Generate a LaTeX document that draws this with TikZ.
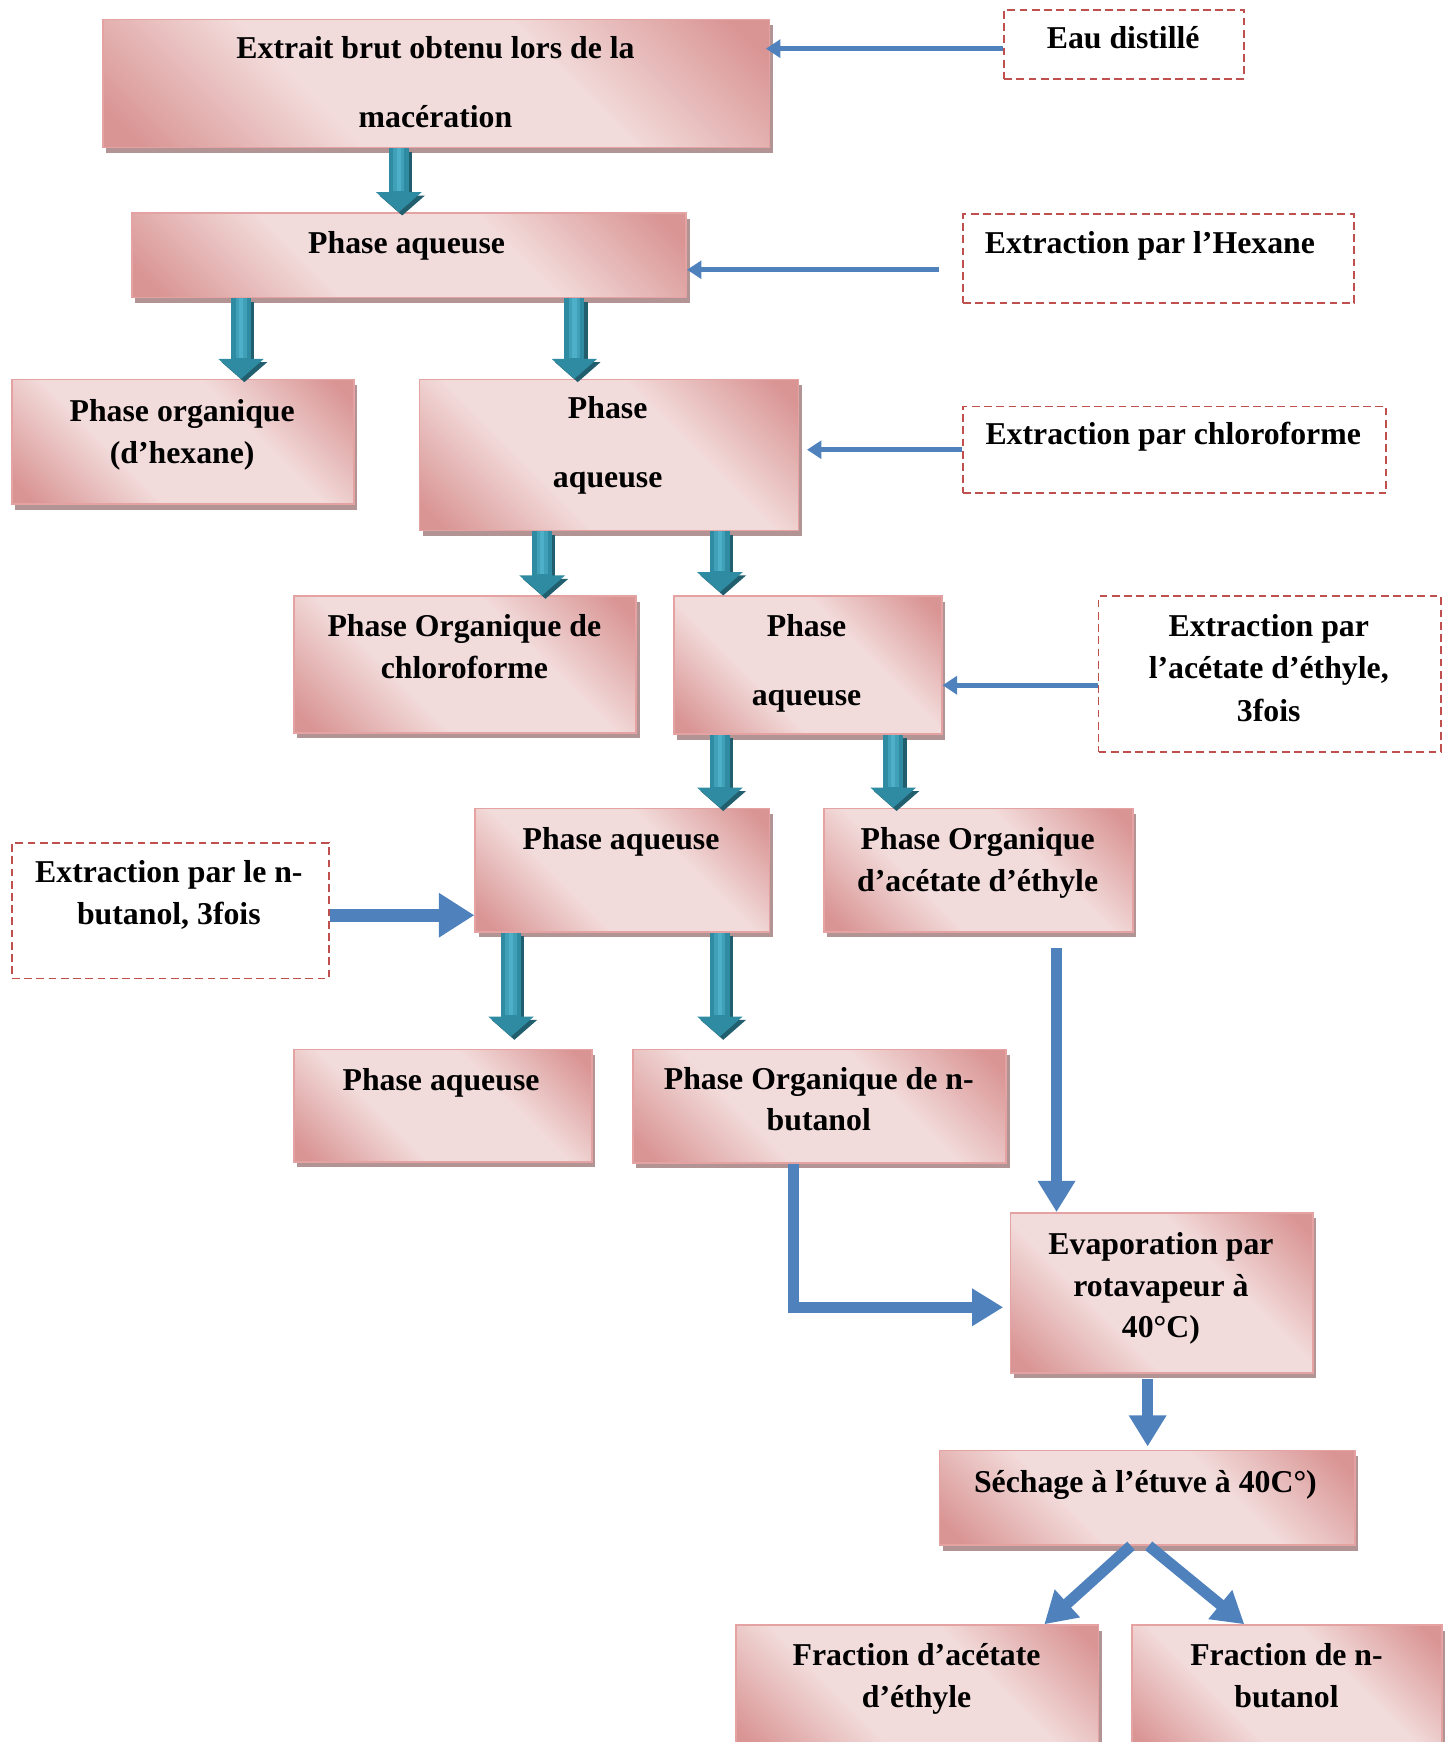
\documentclass[tikz,border=0pt]{standalone}
\usepackage{fontspec}
\setmainfont{Liberation Serif}
\usetikzlibrary{arrows.meta,shadows,calc}

\definecolor{roseD}{HTML}{D99594}
\definecolor{roseL}{HTML}{F2DCDB}
\definecolor{roseEdge}{HTML}{E4A3A2}
\definecolor{roseShadow}{HTML}{B29494}
\definecolor{dashRed}{HTML}{C0504D}
\definecolor{flowBlue}{HTML}{4F81BD}
\definecolor{tealDark}{HTML}{215E6E}
\definecolor{tealMid}{HTML}{2F8BA2}
\definecolor{tealGlow}{HTML}{40A0B8}
\definecolor{tealCore}{HTML}{4DB0C8}

% rose fill: dark in two opposite corners, light band along the other diagonal
\pgfdeclarehorizontalshading{roseband}{100bp}{%
  color(0bp)=(roseD); color(18bp)=(roseD); color(38bp)=(roseL);
  color(62bp)=(roseL); color(82bp)=(roseD); color(100bp)=(roseD)}

\tikzset{
  pbox/.style={draw=roseEdge, line width=1.4pt,
    shading=roseband, shading angle=45,
    drop shadow={shadow xshift=3pt, shadow yshift=-5pt, fill=roseShadow, opacity=1},
    anchor=north west, inner sep=0pt},
  dbox/.style={draw=dashRed, line width=1.6pt, dash pattern=on 7pt off 4pt,
    anchor=north west, inner sep=0pt},
  txt/.style={anchor=base, inner sep=0pt, font=\fontsize{28.6}{34}\selectfont\bfseries},
  tealshade/.style={draw=tealDark, line width=18pt, -{Triangle[width=40pt,length=18pt]}},
  tealbody/.style={draw=tealMid, line width=18pt, -{Triangle[width=40pt,length=18pt]}},
  tealglow/.style={draw=tealGlow, line width=10pt},
  tealcore/.style={draw=tealCore, line width=4pt},
  bthin/.style={draw=flowBlue, line width=4.5pt, -{Triangle[width=16pt,length=13pt]}},
  bmed/.style={draw=flowBlue, line width=10pt, -{Triangle[width=32pt,length=28pt]}},
  bthick/.style={draw=flowBlue, line width=12pt, -{Triangle[width=38pt,length=32pt]}},
}

% shaded block arrow with a dark drop shadow; #1 = gap before the target
\newcommand\tealflow[3][0pt]{%
  \draw[tealshade, shorten >=#1, transform canvas={xshift=3pt,yshift=-3pt}] #2 -- #3;
  \draw[tealbody, shorten >=#1] #2 -- #3;
  \draw[tealglow, shorten >={#1+19pt}] #2 -- #3;
  \draw[tealcore, shorten >={#1+19pt}] #2 -- #3;
}

\begin{document}
\begin{tikzpicture}[x=1pt, y=-1pt]
\useasboundingbox (0,0) rectangle (1306,1568);

% process boxes
\node[pbox, minimum width=600pt, minimum height=115pt] (A) at (92,17) {};
\node[pbox, minimum width=499pt, minimum height=76pt]  (B) at (118,191) {};
\node[pbox, minimum width=308pt, minimum height=112pt] (C) at (10,341) {};
\node[pbox, minimum width=341pt, minimum height=136pt] (D) at (377,341) {};
\node[pbox, minimum width=308pt, minimum height=123pt] (E) at (264,536) {};
\node[pbox, minimum width=241pt, minimum height=124pt] (F) at (606,536) {};
\node[pbox, minimum width=265pt, minimum height=111pt] (G) at (427,727) {};
\node[pbox, minimum width=278pt, minimum height=111pt] (H) at (741,727) {};
\node[pbox, minimum width=268pt, minimum height=101pt] (I) at (264,944) {};
\node[pbox, minimum width=336pt, minimum height=102pt] (J) at (569,944) {};
\node[pbox, minimum width=272pt, minimum height=144pt] (K) at (909,1091) {};
\node[pbox, minimum width=374pt, minimum height=85pt]  (L) at (845,1305) {};
\node[pbox, minimum width=326pt, minimum height=116pt] (M) at (662,1462) {};
\node[pbox, minimum width=279pt, minimum height=116pt] (N) at (1018,1462) {};

% reagent boxes
\node[dbox, minimum width=216pt, minimum height=62pt]  (Eau) at (903,8) {};
\node[dbox, minimum width=352pt, minimum height=80pt]  (Hex) at (866,192) {};
\node[dbox, minimum width=381pt, minimum height=78pt]  (Chl) at (866,365) {};
\node[dbox, minimum width=308pt, minimum height=140pt] (Ace) at (988,536) {};
\node[dbox, minimum width=285pt, minimum height=122pt] (But) at (10,758) {};

% labels
\node[txt] (A1) at (392,53) {Extrait brut obtenu lors de la};
\node[txt] (A2) at (392,115) {macération};
\node[txt] (Eau1) at (1011,44) {Eau distillé};
\node[txt] (B1) at (366,228) {Phase aqueuse};
\node[txt] (Hex1) at (1035,228) {Extraction par l’Hexane};
\node[txt] (C1) at (164,379) {Phase organique};
\node[txt] (C2) at (164,417) {(d’hexane)};
\node[txt] (D1) at (547,377) {Phase};
\node[txt] (D2) at (547,439) {aqueuse};
\node[txt] (Chl1) at (1056,400) {Extraction par chloroforme};
\node[txt] (E1) at (418,573) {Phase Organique de};
\node[txt] (E2) at (418,611) {chloroforme};
\node[txt] (F1) at (726,573) {Phase};
\node[txt] (F2) at (726,635) {aqueuse};
\node[txt] (Ace1) at (1142,573) {Extraction par};
\node[txt] (Ace2) at (1142,611) {l’acétate d’éthyle,};
\node[txt] (Ace3) at (1142,649) {3fois};
\node[txt] (G1) at (559,765) {Phase aqueuse};
\node[txt] (H1) at (880,765) {Phase Organique};
\node[txt] (H2) at (880,802) {d’acétate d’éthyle};
\node[txt] (But1) at (152,794) {Extraction par le n-};
\node[txt] (But2) at (152,832) {butanol, 3fois};
\node[txt] (I1) at (397,982) {Phase aqueuse};
\node[txt] (J1) at (737,981) {Phase Organique de n-};
\node[txt] (J2) at (737,1018) {butanol};
\node[txt] (K1) at (1045,1129) {Evaporation par};
\node[txt] (K2) at (1045,1167) {rotavapeur à};
\node[txt] (K3) at (1045,1204) {40°C)};
\node[txt] (L1) at (1031,1343) {Séchage à l’étuve à 40C°)};
\node[txt] (M1) at (825,1499) {Fraction d’acétate};
\node[txt] (M2) at (825,1537) {d’éthyle};
\node[txt] (N1) at (1158,1499) {Fraction de n-};
\node[txt] (N2) at (1158,1537) {butanol};

% separation steps
\tealflow{([xshift=267pt]A.south west)}{([xshift=241pt]B.north west)}
\tealflow{([xshift=99pt]B.south west)}{([xshift=207pt]C.north west)}
\tealflow{([xshift=399pt]B.south west)}{([xshift=140pt]D.north west)}
\tealflow{([xshift=111pt]D.south west)}{([xshift=224pt]E.north west)}
\tealflow[3pt]{([xshift=271pt]D.south west)}{([xshift=42pt]F.north west)}
\tealflow{([xshift=42pt]F.south west)}{([xshift=221pt]G.north west)}
\tealflow{([xshift=198pt]F.south west)}{([xshift=63pt]H.north west)}
\tealflow[11pt]{([xshift=33pt]G.south west)}{([xshift=196pt]I.north west)}
\tealflow[11pt]{([xshift=221pt]G.south west)}{([xshift=79pt]J.north west)}

% solvent inputs
\coordinate (eauOut) at ([yshift=-4pt]Eau.west);
\draw[bthin, shorten >=-4pt] (eauOut) -- (eauOut -| A.east);
\coordinate (hexOut) at ([shift={(-21pt,-10pt)}]Hex.west);
\draw[bthin] (hexOut) -- (hexOut -| B.east);
\draw[bthin, shorten >=7pt] (Chl.west) -- (Chl.west -| D.east);
\coordinate (aceOut) at ([yshift=-10pt]Ace.west);
\draw[bthin] (aceOut) -- (aceOut -| F.east);
\coordinate (butOut) at ([yshift=-4pt]But.east);
\draw[bthick] (butOut) -- (butOut -| G.west);

% concentration and drying
\draw[bmed, shorten <=14pt] ([xshift=210pt]H.south west) -- ([xshift=42pt]K.north west);
\draw[bmed, shorten >=6pt] ([xshift=145pt]J.south west) |- ([yshift=-13pt]K.west);
\draw[bmed, shorten <=5pt, shorten >=3pt] ([xshift=124pt]K.south west) -- ([xshift=188pt]L.north west);
\draw[bmed] ([xshift=173pt]L.south west) -- ([xshift=278pt]M.north west);
\draw[bmed] ([xshift=189pt]L.south west) -- ([xshift=102pt]N.north west);
\end{tikzpicture}
\end{document}
